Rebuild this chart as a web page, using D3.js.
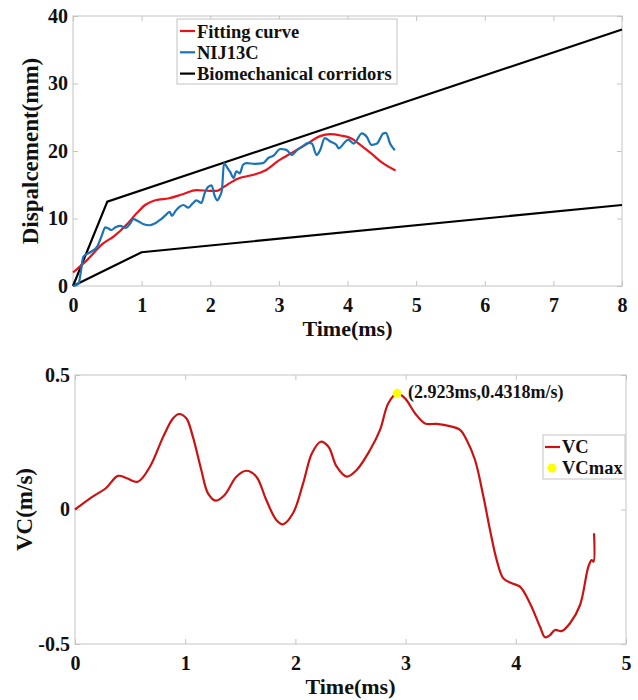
<!DOCTYPE html>
<html>
<head>
<meta charset="utf-8">
<script src="https://cdn.jsdelivr.net/npm/d3@7"></script>
<style>
  body { margin: 0; background: #fff; }
  svg text { font-family: "Liberation Serif", "Times New Roman", serif; font-weight: bold; fill: #111; }
</style>
</head>
<body>
<svg id="chart" width="638" height="700"></svg>
<script>
// ---- Data ----
// top panel: displacement vs time
const fitTime = [0, 0.2, 0.44, 0.6, 0.8, 0.93, 1.05, 1.2, 1.4, 1.6, 1.8, 2.0, 2.1, 2.2, 2.4, 2.6, 2.8, 3.0, 3.2, 3.4, 3.6, 3.75, 3.9, 4.05, 4.2, 4.35, 4.5, 4.7];
const fitDisp = [2.0, 3.8, 6.3, 7.4, 9.3, 10.8, 12.0, 12.7, 13.0, 13.6, 14.2, 14.1, 14.1, 14.7, 15.9, 16.4, 17.1, 18.6, 19.8, 21.0, 22.2, 22.5, 22.3, 21.9, 20.8, 19.6, 18.3, 17.1];

const nijTime = [0, 0.08, 0.12, 0.15, 0.25, 0.35, 0.42, 0.47, 0.52, 0.56, 0.62, 0.69, 0.77, 0.83, 0.88, 0.95, 1.02, 1.12, 1.2, 1.27, 1.35, 1.41, 1.44, 1.5, 1.56, 1.61, 1.68, 1.74, 1.8, 1.87, 1.92, 1.97, 2.02, 2.06, 2.1, 2.14, 2.17, 2.2, 2.25, 2.29, 2.34, 2.38, 2.43, 2.48, 2.53, 2.65, 2.77, 2.85, 2.92, 3.02, 3.1, 3.14, 3.19, 3.26, 3.35, 3.43, 3.48, 3.55, 3.6, 3.67, 3.75, 3.84, 3.87, 3.97, 4.01, 4.09, 4.21, 4.28, 4.35, 4.43, 4.52, 4.56, 4.62, 4.69];
const nijDisp = [0, 0.3, 2.5, 4.3, 5.0, 5.8, 7.5, 8.7, 8.5, 8.3, 8.7, 8.9, 8.6, 9.2, 9.9, 9.6, 9.2, 9.0, 9.3, 9.8, 10.5, 11.0, 10.4, 11.2, 11.8, 12.0, 11.6, 12.2, 12.7, 12.3, 13.8, 14.7, 14.9, 13.5, 12.7, 13.3, 14.2, 18.2, 17.5, 16.9, 16.0, 17.0, 16.7, 18.0, 18.2, 18.1, 18.2, 19.0, 19.3, 20.3, 20.2, 19.9, 19.4, 20.1, 20.7, 21.2, 21.1, 19.4, 20.1, 21.9, 21.4, 20.9, 20.4, 21.4, 21.7, 21.1, 22.6, 22.1, 20.9, 21.1, 22.6, 22.7, 21.1, 20.1];

const upperCorridorTime = [0, 0.5, 8];
const upperCorridorDisp = [0, 12.5, 38];
const lowerCorridorTime = [0, 1, 8];
const lowerCorridorDisp = [0, 5, 12];

const topXTicks = [0, 1, 2, 3, 4, 5, 6, 7, 8];
const topYTicks = [0, 10, 20, 30, 40];
const topLegend = ["Fitting curve", "NIJ13C", "Biomechanical corridors"];

// bottom panel: viscous criterion vs time
const vcTime = [0, 0.16, 0.28, 0.39, 0.47, 0.57, 0.68, 0.8, 0.89, 0.944, 1.01, 1.07, 1.146, 1.207, 1.277, 1.358, 1.464, 1.555, 1.646, 1.736, 1.827, 1.887, 1.978, 2.07, 2.15, 2.23, 2.3, 2.375, 2.465, 2.556, 2.677, 2.768, 2.843, 2.923, 2.995, 3.085, 3.176, 3.28, 3.4, 3.494, 3.554, 3.63, 3.706, 3.766, 3.827, 3.887, 3.963, 4.038, 4.129, 4.22, 4.265, 4.31, 4.356, 4.416, 4.492, 4.583, 4.658, 4.688, 4.705, 4.71];
const vcValue = [0, 0.048, 0.079, 0.125, 0.116, 0.103, 0.159, 0.27, 0.339, 0.355, 0.339, 0.27, 0.147, 0.06, 0.033, 0.054, 0.122, 0.144, 0.122, 0.035, -0.039, -0.055, -0.014, 0.097, 0.209, 0.252, 0.233, 0.159, 0.122, 0.147, 0.221, 0.296, 0.395, 0.4318, 0.413, 0.358, 0.32, 0.318, 0.31, 0.296, 0.258, 0.184, 0.048, -0.076, -0.188, -0.256, -0.274, -0.287, -0.349, -0.436, -0.475, -0.467, -0.448, -0.452, -0.423, -0.355, -0.213, -0.188, -0.194, -0.088];
const vcMax = [2.923, 0.4318];
const vcMaxLabel = "(2.923ms,0.4318m/s)";

const bottomXTicks = [0, 1, 2, 3, 4, 5];
const bottomYTicks = [-0.5, 0, 0.5];
const bottomLegend = ["VC", "VCmax"];

// ---- Layout ----
const svg = d3.select("#chart");
const boxColor = "#c4c4c4";
const red = "#e8141c", darkRed = "#cc1111", blue = "#1a73b8";

function panel(cfg) {
  const x = d3.scaleLinear().domain(cfg.xDomain).range([cfg.left, cfg.right]);
  const y = d3.scaleLinear().domain(cfg.yDomain).range([cfg.bottom, cfg.top]);

  const g = svg.append("g");

  // box + inward ticks on all four sides
  g.append("rect")
    .attr("x", cfg.left).attr("y", cfg.top)
    .attr("width", cfg.right - cfg.left).attr("height", cfg.bottom - cfg.top)
    .attr("fill", "none").attr("stroke", boxColor);

  const axes = [
    [d3.axisBottom(x).tickValues(cfg.xTicks).tickFormat(String), `translate(0,${cfg.bottom})`],
    [d3.axisTop(x).tickValues(cfg.xTicks).tickFormat(""), `translate(0,${cfg.top})`],
    [d3.axisLeft(y).tickValues(cfg.yTicks).tickFormat(String), `translate(${cfg.left},0)`],
    [d3.axisRight(y).tickValues(cfg.yTicks).tickFormat(""), `translate(${cfg.right},0)`]
  ];
  axes.forEach(([ax, tr], i) => {
    const a = g.append("g").attr("transform", tr).call(ax.tickSize(-5));
    a.select(".domain").remove();
    a.selectAll(".tick line").attr("stroke", boxColor);
    a.selectAll("text").attr("font-size", 20).attr("fill", "#111");
    if (i === 0) a.selectAll("text").attr("y", 26).attr("dy", null);
    if (i === 2) a.selectAll("text").attr("x", -5);
  });

  // axis titles
  g.append("text")
    .attr("x", (cfg.left + cfg.right) / 2).attr("y", cfg.bottom + 50)
    .attr("text-anchor", "middle").attr("font-size", 22)
    .text(cfg.xLabel);
  g.append("text")
    .attr("transform", `translate(${cfg.yLabelX},${(cfg.top + cfg.bottom) / 2}) rotate(-90)`)
    .attr("text-anchor", "middle").attr("font-size", 23)
    .text(cfg.yLabel);

  return { g, x, y };
}

// ---- Top panel ----
const topPanel = panel({
  left: 73, right: 622, top: 16, bottom: 286,
  xDomain: [0, 8], yDomain: [0, 40],
  xTicks: topXTicks, yTicks: topYTicks,
  xLabel: "Time(ms)", yLabel: "Dispalcement(mm)", yLabelX: 38
});

const lineTop = d3.line().x(d => topPanel.x(d[0])).y(d => topPanel.y(d[1]));

topPanel.g.append("path")
  .datum(d3.zip(upperCorridorTime, upperCorridorDisp))
  .attr("d", lineTop).attr("fill", "none").attr("stroke", "#000").attr("stroke-width", 2.2);
topPanel.g.append("path")
  .datum(d3.zip(lowerCorridorTime, lowerCorridorDisp))
  .attr("d", lineTop).attr("fill", "none").attr("stroke", "#000").attr("stroke-width", 2.2);
topPanel.g.append("path")
  .datum(d3.zip(fitTime, fitDisp))
  .attr("d", lineTop.curve(d3.curveMonotoneX))
  .attr("fill", "none").attr("stroke", red).attr("stroke-width", 2.2);
topPanel.g.append("path")
  .datum(d3.zip(nijTime, nijDisp))
  .attr("d", lineTop.curve(d3.curveMonotoneX))
  .attr("fill", "none").attr("stroke", blue).attr("stroke-width", 2.2);

// legend
const legTop = topPanel.g.append("g");
legTop.append("rect").attr("x", 177).attr("y", 19).attr("width", 220).attr("height", 65)
  .attr("fill", "#fff").attr("stroke", boxColor);
[red, blue, "#000"].forEach((c, i) => {
  const yy = 31 + i * 21.3;
  legTop.append("line").attr("x1", 180).attr("x2", 195).attr("y1", yy).attr("y2", yy)
    .attr("stroke", c).attr("stroke-width", 2.2);
  legTop.append("text").attr("x", 197).attr("y", yy + 6.5).attr("font-size", 18.5)
    .text(topLegend[i]);
});

// ---- Bottom panel ----
const botPanel = panel({
  left: 75, right: 626, top: 375, bottom: 644,
  xDomain: [0, 5], yDomain: [-0.5, 0.5],
  xTicks: bottomXTicks, yTicks: bottomYTicks,
  xLabel: "Time(ms)", yLabel: "VC(m/s)", yLabelX: 32
});

botPanel.g.append("path")
  .datum(d3.zip(vcTime, vcValue))
  .attr("d", d3.line().x(d => botPanel.x(d[0])).y(d => botPanel.y(d[1])).curve(d3.curveCatmullRom.alpha(0.5)))
  .attr("fill", "none").attr("stroke", darkRed).attr("stroke-width", 2.2);

botPanel.g.append("circle")
  .attr("cx", botPanel.x(vcMax[0])).attr("cy", botPanel.y(vcMax[1])).attr("r", 4.5)
  .attr("fill", "#ffff00");
botPanel.g.append("text")
  .attr("x", botPanel.x(vcMax[0]) + 11).attr("y", botPanel.y(vcMax[1]) + 5)
  .attr("font-size", 18).text(vcMaxLabel);

const legBot = botPanel.g.append("g");
legBot.append("rect").attr("x", 543).attr("y", 435).attr("width", 82).attr("height", 44)
  .attr("fill", "#fff").attr("stroke", boxColor);
legBot.append("line").attr("x1", 545).attr("x2", 560).attr("y1", 447).attr("y2", 447)
  .attr("stroke", darkRed).attr("stroke-width", 2.2);
legBot.append("circle").attr("cx", 552).attr("cy", 468).attr("r", 4.5).attr("fill", "#ffff00");
bottomLegend.forEach((t, i) => {
  legBot.append("text").attr("x", 562).attr("y", 453 + i * 21).attr("font-size", 18.5).text(t);
});
</script>
</body>
</html>
